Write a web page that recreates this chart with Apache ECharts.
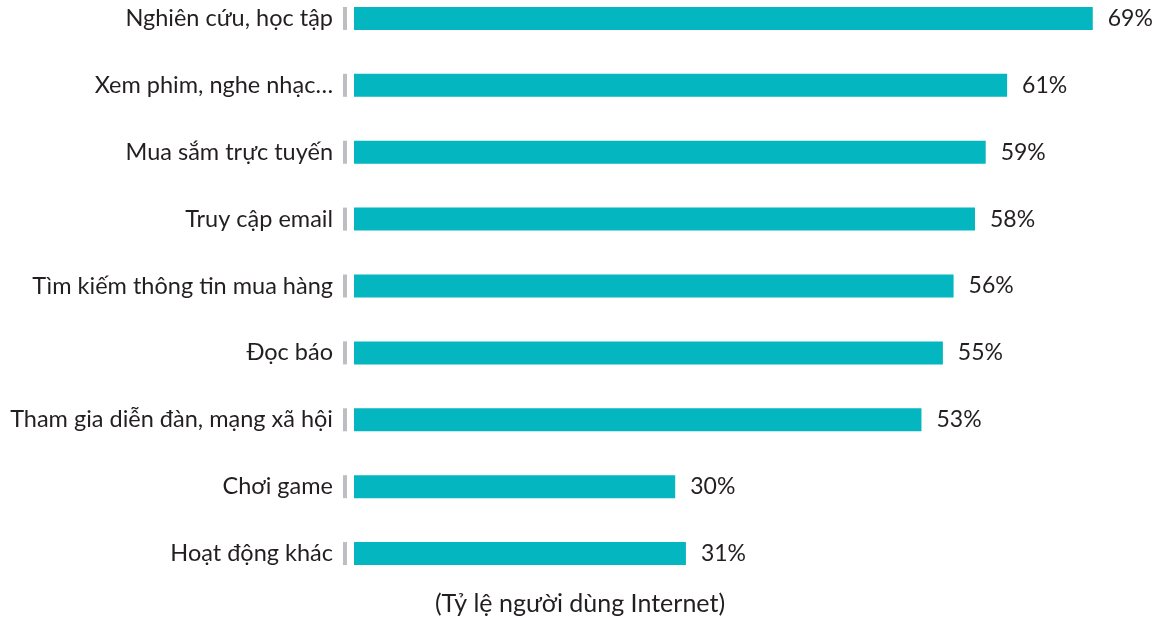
<!DOCTYPE html>
<html><head><meta charset="utf-8">
<script src="https://cdn.jsdelivr.net/npm/echarts@6/dist/echarts.min.js"></script>
<style>html,body{margin:0;padding:0;background:#fff}#c{width:1160px;height:618px}</style>
</head><body><div id="c"></div>
<script>
const categories = ["Nghiên cứu, học tập","Xem phim, nghe nhạc…","Mua sắm trực tuyến","Truy cập email","Tìm kiếm thông tin mua hàng","Đọc báo","Tham gia diễn đàn, mạng xã hội","Chơi game","Hoạt động khác"];
const values = [69,61,59,58,56,55,53,30,31];
const axisTitle = "(Tỷ lệ người dùng Internet)";

const FONT = "Lato";
const chart = echarts.init(document.getElementById('c'));
chart.setOption({
  backgroundColor:'#fff',
  animation:false,
  title:{text:axisTitle,left:'center',top:589,padding:0,textStyle:{fontFamily:FONT,fontWeight:'normal',fontSize:25,lineHeight:30,color:'#231f20'}},
  grid:{left:354,width:803,top:-15,height:602,containLabel:false,outerBoundsMode:'none'},
  xAxis:{type:'value',min:0,max:75,show:false},
  yAxis:{type:'category',data:categories,inverse:true,
    axisLine:{show:false},axisTick:{show:false},
    axisLabel:{margin:7,formatter:v=>'{t|'+v+'}{g|}',
      rich:{t:{fontFamily:FONT,fontSize:23.5,color:'#231f20',padding:[0,10,0,0]},
            g:{width:4,height:23,backgroundColor:'#bdbec2'}}}},
  series:[{type:'bar',data:values,barWidth:23,itemStyle:{color:'#03b6bf'},
    label:{show:true,position:'right',distance:15,formatter:'{c}%',fontFamily:FONT,fontSize:23,color:'#231f20'}}]
});
</script></body></html>
